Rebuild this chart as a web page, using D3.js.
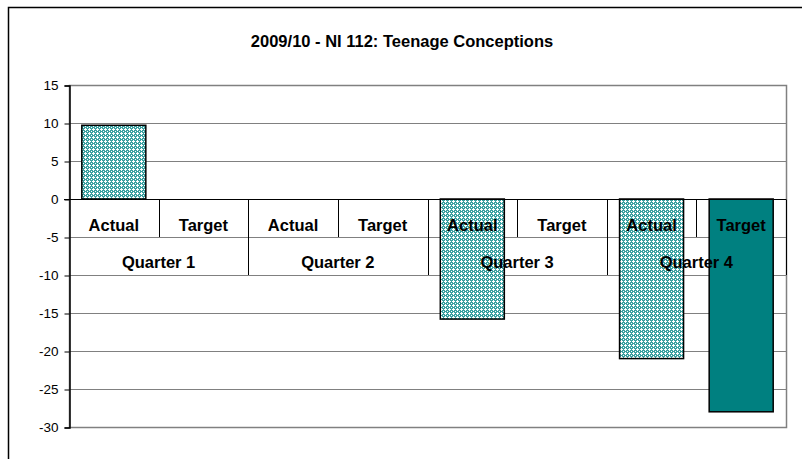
<!DOCTYPE html>
<html>
<head>
<meta charset="utf-8">
<script src="https://cdn.jsdelivr.net/npm/d3@7"></script>
<style>
  html, body { margin: 0; padding: 0; background: #fff; }
  svg { display: block; font-family: Arial, "Liberation Sans", sans-serif; }
</style>
</head>
<body>
<svg id="chart" width="802" height="459"></svg>
<script>
const title = "2009/10 - NI 112: Teenage Conceptions";
const quarters = ["Quarter 1", "Quarter 2", "Quarter 3", "Quarter 4"];
const measures = ["Actual", "Target"];
const actualValues = [9.7, null, -15.8, -21.0];
const targetValues = [null, null, null, -28.0];
const yTicks = [15, 10, 5, 0, -5, -10, -15, -20, -25, -30];

const svg = d3.select("#chart");
const W = 802, H = 459;
const plot = { left: 69, right: 786, top: 85, bottom: 427 };

// pattern for Actual bars
const defs = svg.append("defs");
const pat = defs.append("pattern").attr("id", "hatch")
  .attr("patternUnits", "userSpaceOnUse").attr("width", 4).attr("height", 4);
pat.append("rect").attr("width", 4).attr("height", 4).attr("fill", "#3aa0a0");
[[1,0],[0,1],[1,1],[2,1],[1,2],[3,3]].forEach(([px,py]) =>
  pat.append("rect").attr("x", px).attr("y", py).attr("width", 1).attr("height", 1).attr("fill", "#ffffff"));

// outer chart border
svg.append("rect").attr("x", 8.5).attr("y", 7.5).attr("width", W).attr("height", H)
  .attr("fill", "none").attr("stroke", "#000").attr("stroke-width", 1.5);

svg.append("text").attr("x", 402).attr("y", 47).attr("text-anchor", "middle")
  .attr("font-weight", "bold").attr("font-size", 16.5).text(title);

const y = d3.scaleLinear().domain([-30, 15]).range([plot.bottom, plot.top]);

// categories flattened
const cats = [];
quarters.forEach((q, qi) => measures.forEach(m => cats.push({ q, qi, m,
  value: m === "Actual" ? actualValues[qi] : targetValues[qi] })));
const x = d3.scaleBand().domain(cats.map((d, i) => i)).range([plot.left, plot.right]).padding(0);
const xq = d3.scaleBand().domain(quarters).range([plot.left, plot.right]).padding(0);
const barW = x.bandwidth() / 1.4;

// gridlines
svg.append("g").selectAll("line").data(yTicks).join("line")
  .attr("x1", plot.left).attr("x2", plot.right)
  .attr("y1", d => Math.round(y(d)) + 0.5).attr("y2", d => Math.round(y(d)) + 0.5)
  .attr("stroke", "#808080").attr("stroke-width", 1);

// plot border
svg.append("rect").attr("x", plot.left + 0.5).attr("y", Math.round(y(15)) + 0.5)
  .attr("width", plot.right - plot.left).attr("height", Math.round(y(-30)) - Math.round(y(15)))
  .attr("fill", "none").attr("stroke", "#808080").attr("stroke-width", 1.5);

// bars
svg.append("g").selectAll("rect").data(cats.filter(d => d.value != null)).join("rect")
  .attr("x", d => x(cats.indexOf(d)) + (x.bandwidth() - barW) / 2)
  .attr("width", barW)
  .attr("y", d => y(Math.max(0, d.value)))
  .attr("height", d => Math.abs(y(d.value) - y(0)))
  .attr("fill", d => d.m === "Actual" ? "url(#hatch)" : "#008080")
  .attr("stroke", "#000").attr("stroke-width", 1.5);

// x axis line
const y0 = Math.round(y(0)) + 0.5;
svg.append("line").attr("x1", plot.left - 5).attr("x2", plot.right).attr("y1", y0).attr("y2", y0)
  .attr("stroke", "#000").attr("stroke-width", 1);

// separators within quarters
const rowH = y(-5) - y(0);
svg.append("g").selectAll("line").data(quarters).join("line")
  .attr("x1", q => Math.round(xq(q) + xq.bandwidth() / 2) + 0.5)
  .attr("x2", q => Math.round(xq(q) + xq.bandwidth() / 2) + 0.5)
  .attr("y1", y0).attr("y2", y(-5))
  .attr("stroke", "#000").attr("stroke-width", 1);
// separators between quarters
svg.append("g").selectAll("line").data(quarters.slice(1).concat(["end"])).join("line")
  .attr("x1", q => q === "end" ? plot.right + 0.5 : Math.round(xq(q)) + 0.5)
  .attr("x2", q => q === "end" ? plot.right + 0.5 : Math.round(xq(q)) + 0.5)
  .attr("y1", y0).attr("y2", y(-10))
  .attr("stroke", "#000").attr("stroke-width", 1);

// category labels
svg.append("g").selectAll("text").data(cats).join("text")
  .attr("x", (d, i) => x(i) + x.bandwidth() / 2)
  .attr("y", y(0) + rowH / 2 + 13)
  .attr("text-anchor", "middle").attr("font-weight", "bold").attr("font-size", 16.5)
  .text(d => d.m);
svg.append("g").selectAll("text").data(quarters).join("text")
  .attr("x", q => xq(q) + xq.bandwidth() / 2)
  .attr("y", y(-5) + rowH / 2 + 12)
  .attr("text-anchor", "middle").attr("font-weight", "bold").attr("font-size", 16.5)
  .text(q => q);

// y axis
const yAxis = d3.axisLeft(y).tickValues(yTicks).tickSize(5).tickPadding(6).tickFormat(d => String(d));
const ga = svg.append("g").attr("transform", `translate(${plot.left + 0.5},0.5)`).call(yAxis);
ga.select(".domain").attr("stroke", "#000").attr("stroke-width", 1.5);
ga.selectAll(".tick line").attr("stroke", "#000");
ga.selectAll(".tick text").attr("font-size", 13.5).attr("fill", "#000")
  .attr("font-family", "Arial, 'Liberation Sans', sans-serif");
</script>
</body>
</html>
